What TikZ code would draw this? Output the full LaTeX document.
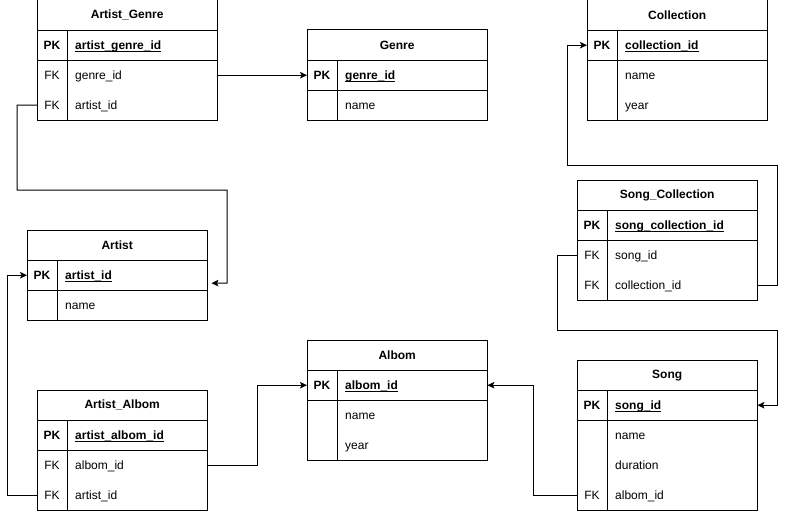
\documentclass[tikz,border=0pt]{standalone}
\usepackage{fontspec}
\setmainfont{Liberation Sans}
\usetikzlibrary{arrows.meta}
\newcommand\erfont{\fontsize{12pt}{14pt}\selectfont}
\newcommand\pkul[1]{\setbox0\hbox{#1}\rlap{\vrule height -1.4pt depth 2.4pt width \wd0}\box0}
\tikzset{
  erline/.style={draw=black, line width=1pt},
  headbox/.style={inner sep=0pt, minimum height=30pt, anchor=north west, font=\erfont\bfseries},
  rowbox/.style={inner sep=0pt, minimum height=30pt, anchor=north west},
  keytext/.style={inner sep=0pt, text height=8.6pt, text depth=0pt, font=\erfont},
  fieldtext/.style={inner sep=0pt, text height=8.6pt, text depth=0pt, anchor=west, font=\erfont},
  fkarrow/.style={draw=black, line width=1pt, -{Stealth[length=7pt,width=6.5pt,inset=1.5pt]}},
}
% name, x, y, width, title
\newcommand\erhead[5]{\node[headbox, minimum width=#4pt] (#1-h) at (#2,#3) {#5};}
% row node name, x, y, width, key width, key, field
\newcommand\errow[7]{%
  \node[rowbox, minimum width=#4pt] (#1) at (#2,#3) {};
  \node[keytext] (#1-k) at ([xshift={#5pt/2}]#1.west) {#6};
  \node[fieldtext] (#1-f) at ([xshift={#5pt+8pt}]#1.west) {#7};}
% table name, last row node, key width
\newcommand\erframe[3]{%
  \draw[erline] (#1-h.north west) rectangle (#2.south east);
  \draw[erline] (#1-h.south west) -- (#1-h.south east);
  \draw[erline] (#1-1.south west) -- (#1-1.south east);
  \draw[erline] ([xshift=#3pt]#1-1.north west) -- ([xshift=#3pt]#2.south west);}
\begin{document}
\begin{tikzpicture}[x=1pt, y=-1pt]
\useasboundingbox (0,0) rectangle (786,511);

% Artist_Genre
\erhead{ag}{37}{0}{180}{Artist\_Genre}
\errow{ag-1}{37}{30}{180}{30}{\textbf{PK}}{\pkul{\textbf{artist\_genre\_id}}}
\errow{ag-2}{37}{60}{180}{30}{FK}{genre\_id}
\errow{ag-3}{37}{90}{180}{30}{FK}{artist\_id}
\erframe{ag}{ag-3}{30}

% Genre
\erhead{g}{307}{30}{180}{Genre}
\errow{g-1}{307}{60}{180}{30}{\textbf{PK}}{\pkul{\textbf{genre\_id}}}
\errow{g-2}{307}{90}{180}{30}{}{name}
\erframe{g}{g-2}{30}

% Collection
\erhead{c}{587}{0}{180}{Collection}
\errow{c-1}{587}{30}{180}{30}{\textbf{PK}}{\pkul{\textbf{collection\_id}}}
\errow{c-2}{587}{60}{180}{30}{}{name}
\errow{c-3}{587}{90}{180}{30}{}{year}
\erframe{c}{c-3}{30}

% Song_Collection
\erhead{sc}{577}{180}{180}{Song\_Collection}
\errow{sc-1}{577}{210}{180}{30}{\textbf{PK}}{\pkul{\textbf{song\_collection\_id}}}
\errow{sc-2}{577}{240}{180}{30}{FK}{song\_id}
\errow{sc-3}{577}{270}{180}{30}{FK}{collection\_id}
\erframe{sc}{sc-3}{30}

% Artist
\erhead{ar}{27}{230}{180}{Artist}
\errow{ar-1}{27}{260}{180}{30}{\textbf{PK}}{\pkul{\textbf{artist\_id}}}
\errow{ar-2}{27}{290}{180}{30}{}{name}
\erframe{ar}{ar-2}{30}

% Albom
\erhead{al}{307}{340}{180}{Albom}
\errow{al-1}{307}{370}{180}{30}{\textbf{PK}}{\pkul{\textbf{albom\_id}}}
\errow{al-2}{307}{400}{180}{30}{}{name}
\errow{al-3}{307}{430}{180}{30}{}{year}
\erframe{al}{al-3}{30}

% Song
\erhead{s}{577}{360}{180}{Song}
\errow{s-1}{577}{390}{180}{30}{\textbf{PK}}{\pkul{\textbf{song\_id}}}
\errow{s-2}{577}{420}{180}{30}{}{name}
\errow{s-3}{577}{450}{180}{30}{}{duration}
\errow{s-4}{577}{480}{180}{30}{FK}{albom\_id}
\erframe{s}{s-4}{30}

% Artist_Albom
\erhead{aa}{37}{390}{170}{Artist\_Albom}
\errow{aa-1}{37}{420}{170}{30}{\textbf{PK}}{\pkul{\textbf{artist\_albom\_id}}}
\errow{aa-2}{37}{450}{170}{30}{FK}{albom\_id}
\errow{aa-3}{37}{480}{170}{30}{FK}{artist\_id}
\erframe{aa}{aa-3}{30}

% connectors
\draw[fkarrow] (ag-2.east) -- (g-1.west);
\draw[fkarrow] (ag-3.west) -- ++(-20,0) |- (227,190) -- (227,283) -- ([xshift=4pt,yshift=-8pt]ar-1.east);
\draw[fkarrow] (aa-3.west) -- ++(-30,0) |- (ar-1.west);
\draw[fkarrow] (aa-2.east) -- ++(50,0) |- (al-1.west);
\draw[fkarrow] (s-4.west) -- ++(-44,0) |- (al-1.east);
\draw[fkarrow] (sc-2.west) -- ++(-20,0) |- (777,330) |- (s-1.east);
\draw[fkarrow] (sc-3.east) -- ++(20,0) |- (567,165) |- (c-1.west);
\end{tikzpicture}
\end{document}
